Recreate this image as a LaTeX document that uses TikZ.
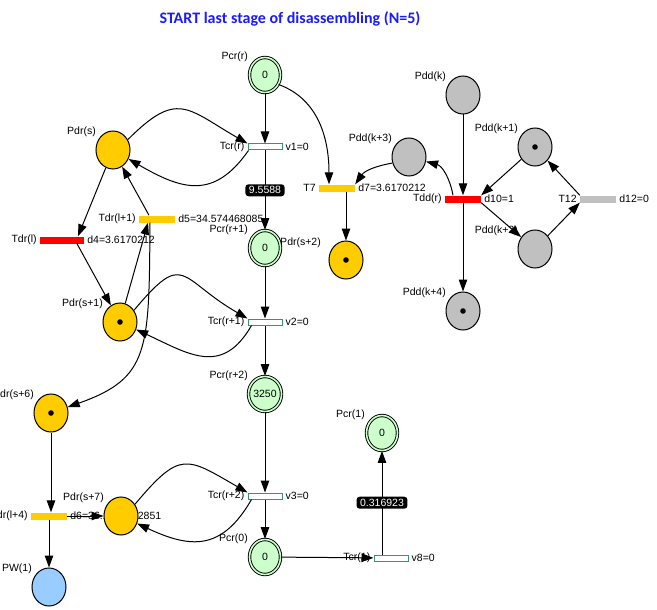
\documentclass[tikz,border=0pt]{standalone}
\usepackage{fontspec}
\setmainfont{Liberation Sans}
\newfontfamily\titlefont{Carlito}
\usetikzlibrary{shapes.geometric,arrows.meta,calc}
\definecolor{pdrfill}{HTML}{FFCC00}
\definecolor{pddfill}{HTML}{C0C0C0}
\definecolor{pwfill}{HTML}{99CCFF}
\definecolor{pcrfill}{HTML}{CCFFCC}
\definecolor{tcrline}{HTML}{339966}
\definecolor{redbar}{HTML}{FF0000}
\definecolor{titleblue}{HTML}{1A1AFF}
% place name above left of a place
\newcommand\placelabel[2]{\node[lbl, anchor=east] (#1-name) at ([shift={(-17,18)}]#1.center) {#2};}
% transition name on the left, delay/value on the right
\newcommand\barlabels[3]{%
  \node[lbl, anchor=east] (#1-name) at ([xshift=-3pt]#1.west) {#2};
  \node[lbl, anchor=west] (#1-delay) at ([xshift=3pt]#1.east) {#3};}
% marking dot
\newcommand\marktoken[1]{\fill (#1.center) circle (2.8pt);}
\begin{document}
\begin{tikzpicture}[x=1pt,y=1pt,
  lbl/.style={inner sep=0pt, font=\fontsize{10.5}{12}\selectfont},
  place/.style={ellipse, draw, line width=1pt, minimum width=34pt, minimum height=38pt, inner sep=0pt, font=\fontsize{10.5}{12}\selectfont},
  pdr/.style={place, fill=pdrfill},
  pdd/.style={place, fill=pddfill},
  pw/.style={place, fill=pwfill},
  pcr/.style={place, line width=0.9pt, fill=pcrfill, double=pcrfill, double distance=1.6pt, minimum width=31pt, minimum height=35pt},
  bar/.style={rectangle, inner sep=0pt, minimum width=36pt, minimum height=7pt},
  tcr/.style={bar, fill=white, draw=tcrline, line width=1pt, minimum width=34pt, minimum height=6pt},
  arr/.style={-{Triangle[length=12pt,width=8.5pt]}, line width=1pt},
  val/.style={fill=black, text=white, rounded corners=3pt, inner xsep=3.5pt, inner ysep=0pt, minimum height=12pt, font=\fontsize{10.5}{12}\selectfont},
]
\useasboundingbox (0,0) rectangle (657,-610);

\node[font=\titlefont\bfseries\fontsize{16}{18}\selectfont, text=titleblue] (title) at (290,-19) {START last stage of disassembling (N=5)};

% ---- Pcr chain (centre column)
\node[pcr] (pcrr)  at (265,-75)  {0};
\node[tcr] (tcrr)  at (265,-147) {};
\node[pcr] (pcrr1) at (265,-248) {0};
\node[tcr] (tcrr1) at (265,-322) {};
\node[pcr] (pcrr2) at (265,-394) {3250};
\node[tcr] (tcrr2) at (265,-496) {};
\node[pcr] (pcr0)  at (265,-557) {0};
\node[tcr] (tcr1)  at (391,-558) {};
\node[pcr] (pcr1)  at (382,-433) {0};

% ---- Pdr places and transitions (left)
\node[pdr] (pdrs)  at (113,-150) {};
\node[bar, fill=redbar, minimum width=44pt] (tdrl) at (62,-240) {};
\node[bar, fill=pdrfill] (tdrl1) at (157,-219) {};
\node[pdr] (pdrs1) at (120,-322) {};
\node[pdr] (pdrs6) at (51,-413) {};
\node[bar, fill=pdrfill] (tdrl4) at (49,-516) {};
\barlabels{tdrl4}{Tdr(l+4)}{d6=36.1702122851}
\node[pdr] (pdrs7) at (121,-516) {};
\node[pw]  (pw1)   at (49,-587) {};

% ---- T7 and Pdr(s+2)
\node[bar, fill=pdrfill] (t7) at (337,-188) {};
\node[pdr] (pdrs2) at (346,-260) {};

% ---- Pdd places and transitions (right)
\node[pdd] (pddk)  at (463,-95)  {};
\node[pdd] (pddk1) at (535,-147) {};
\node[pdd] (pddk3) at (409,-157) {};
\node[bar, fill=redbar] (tddr) at (463,-199) {};
\node[bar, fill=pddfill] (t12) at (598,-199) {};
\node[pdd] (pddk2) at (535,-249) {};
\node[pdd] (pddk4) at (463,-311) {};

% ---- tokens
\marktoken{pdrs1}
\marktoken{pdrs2}
\marktoken{pdrs6}
\marktoken{pddk1}
\marktoken{pddk4}

% ---- place names
\placelabel{pcrr}{Pcr(r)}
\placelabel{pcrr1}{Pcr(r+1)}
\placelabel{pcrr2}{Pcr(r+2)}
\placelabel{pcr0}{Pcr(0)}
\placelabel{pcr1}{Pcr(1)}
\placelabel{pdrs}{Pdr(s)}
\placelabel{pdrs1}{Pdr(s+1)}
\placelabel{pdrs6}{Pdr(s+6)}
\placelabel{pdrs7}{Pdr(s+7)}
\placelabel{pw1}{PW(1)}
\node[lbl, anchor=east] (pdrs2-name) at ([shift={(-25,17)}]pdrs2.center) {Pdr(s+2)};
\placelabel{pddk}{Pdd(k)}
\placelabel{pddk1}{Pdd(k+1)}
\placelabel{pddk2}{Pdd(k+2)}
\placelabel{pddk3}{Pdd(k+3)}
\placelabel{pddk4}{Pdd(k+4)}

% ---- transition names and values
\barlabels{tcrr}{Tcr(r)}{v1=0}
\barlabels{tcrr1}{Tcr(r+1)}{v2=0}
\barlabels{tcrr2}{Tcr(r+2)}{v3=0}
\barlabels{tcr1}{Tcr(1)}{v8=0}
\barlabels{tdrl}{Tdr(l)}{d4=3.6170212}
\barlabels{tdrl1}{Tdr(l+1)}{d5=34.574468085}
\barlabels{t7}{T7}{d7=3.6170212}
\barlabels{tddr}{Tdd(r)}{d10=1}
\barlabels{t12}{T12}{d12=0}

% ---- arcs: centre column
\draw[arr] (pcrr) -- (tcrr);
\draw[arr] (tcrr) -- node[val] (w1) {9.5588} (pcrr1);
\draw[arr] (pcrr1) -- (tcrr1);
\draw[arr] (tcrr1) -- (pcrr2);
\draw[arr] (pcrr2) -- (tcrr2);
\draw[arr] (tcrr2) -- (pcr0);
\draw[arr] (pcr0) -- (tcr1);
\draw[arr] (tcr1.north -| pcr1.center) -- node[val] (w8) {0.316923} (pcr1);

% ---- arcs: Pdr loops with the Tcr transitions
\draw[arr] (pdrs.35) to[out=45, in=150, looseness=1.5] (tcrr.north west);
\draw[arr] ([xshift=1pt]tcrr.south west) to[out=235, in=-30, looseness=1.3] (pdrs);
\draw[arr] (pdrs1.40) to[out=50, in=150, looseness=1.8] (tcrr1.north west);
\draw[arr] ([xshift=4pt]tcrr1.south west) to[out=240, in=-25, looseness=1.3] (pdrs1);
\draw[arr] (pdrs7.40) to[out=50, in=150, looseness=1.6] (tcrr2.north west);
\draw[arr] ([xshift=4pt]tcrr2.south west) to[out=240, in=-25, looseness=1.3] (pdrs7);

% ---- arcs: left cluster
\draw[arr] (pdrs) -- ([xshift=16pt]tdrl.north);
\draw[arr] ([xshift=15pt]tdrl.south) -- (pdrs1);
\draw[arr] ([xshift=-8pt]tdrl1.north) -- (pdrs);
\draw[arr] (pdrs1) -- ([xshift=-9pt]tdrl1.south);
\draw[arr] ([xshift=-7pt]tdrl1.south) .. controls (149,-350) and (150,-378) .. (pdrs6);
\draw[arr] (pdrs6) -- (pdrs6 |- tdrl4.north);
\draw[arr] (tdrl4.east) -- (pdrs7);
\draw[arr] (tdrl4) -- (pw1);

% ---- arcs: T7
\draw[arr] (pcrr.-35) to[out=-20, in=90] ([xshift=-8pt]t7.north);
\draw[arr] (pddk3.200) to[out=190, in=55] (t7.north east);
\draw[arr] (t7.south -| pdrs2.center) -- (pdrs2);

% ---- arcs: right cluster
\draw[arr] ([xshift=-10pt]tddr.north) to[out=100, in=-15] (pddk3);
\draw[arr] (pddk) -- (tddr);
\draw[arr] (pddk1) -- (tddr.north east);
\draw[arr] (tddr.south east) -- (pddk2);
\draw[arr] (tddr) -- (pddk4);
\draw[arr] (pddk2) -- (t12.south west);
\draw[arr] (t12.north west) -- (pddk1);
\end{tikzpicture}
\end{document}
